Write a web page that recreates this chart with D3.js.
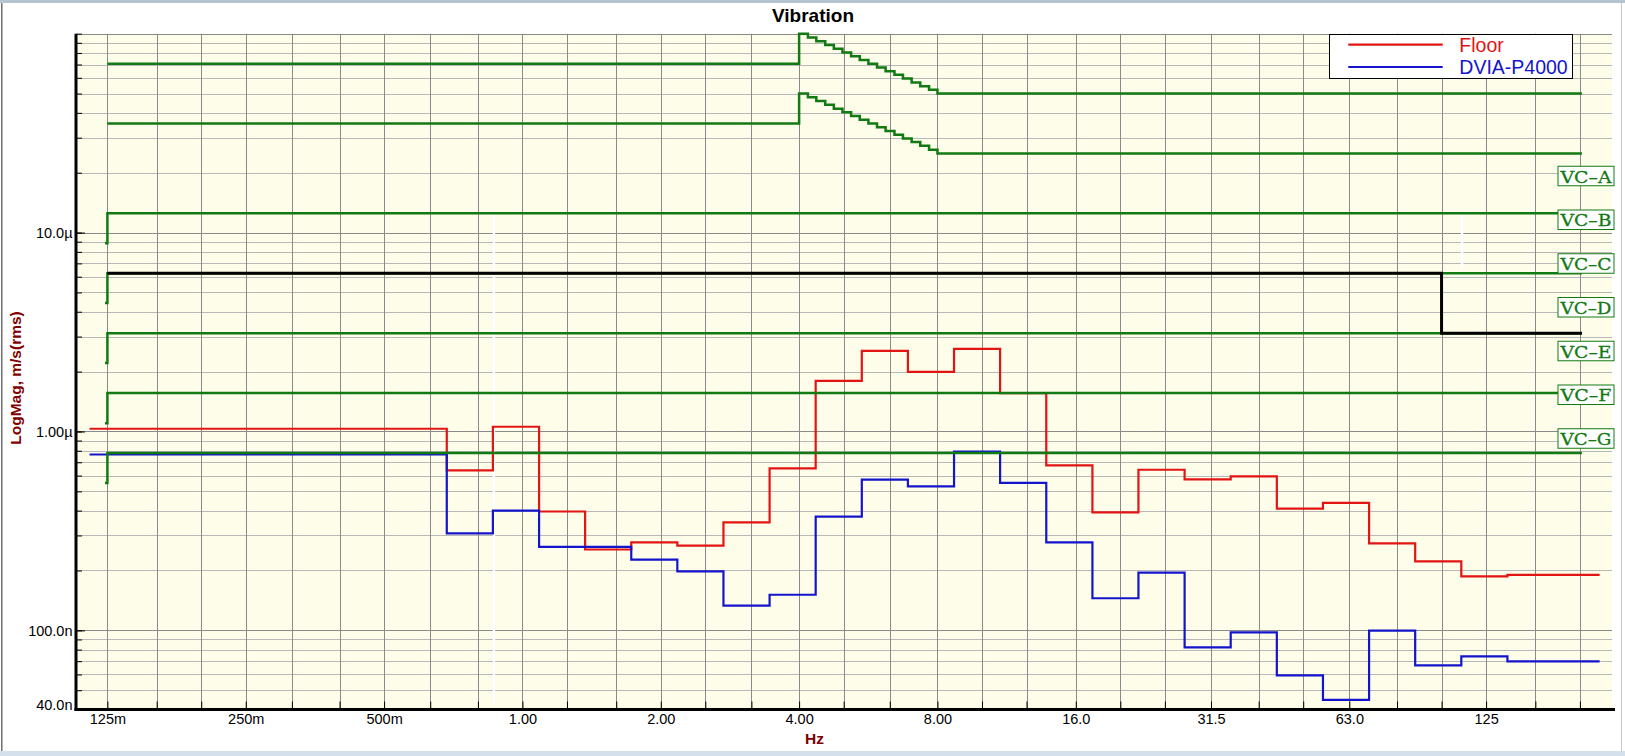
<!DOCTYPE html>
<html><head><meta charset="utf-8">
<script src="https://cdn.jsdelivr.net/npm/d3@7"></script>
<style>html,body{margin:0;padding:0;background:#fff;overflow:hidden}</style>
</head><body><svg id="c" width="1625" height="756"></svg>
<script>
// ---------- DATA ----------
// third-octave band edges (Hz) of the measured spectra
const bandEdges = [0.1143, 0.6845, 0.8624, 1.087, 1.369, 1.725, 2.173, 2.738, 3.450, 4.346, 5.476, 6.899, 8.693, 10.95, 13.80, 17.39, 21.90, 27.60, 34.77, 43.81, 55.20, 69.55, 87.62, 110.4, 139.1, 175.2, 220.8];
// band values, µm/s rms
const floorValues = [1.032, 0.637, 1.056, 0.396, 0.255, 0.277, 0.267, 0.349, 0.652, 1.798, 2.544, 1.995, 2.604, 1.56, 0.675, 0.392, 0.642, 0.574, 0.594, 0.409, 0.438, 0.274, 0.222, 0.187, 0.190, 0.190];
const dviaValues  = [0.766, 0.307, 0.400, 0.263, 0.263, 0.227, 0.198, 0.133, 0.151, 0.373, 0.572, 0.529, 0.791, 0.552, 0.277, 0.145, 0.195, 0.0822, 0.0977, 0.0594, 0.0447, 0.0997, 0.0667, 0.074, 0.0699, 0.0699];
const seriesNames = ["Floor", "DVIA-P4000"];

// vibration criteria, µm/s
const vcNames = ["VC\u2013A", "VC\u2013B", "VC\u2013C", "VC\u2013D", "VC\u2013E", "VC\u2013F", "VC\u2013G"];
const vcLevels = [50, 25, 12.5, 6.25, 3.12, 1.56, 0.78];
const vcStartLevels = [70.7, 35.4, 8.84, 4.42, 2.21, 1.10, 0.55];
const vcStartFreq = 0.1235;
const vcFreq = 0.125;
const vcEndFreq = 202;
// 4–8 Hz staircase of VC-A and VC-B
const slopeFreqs = [4.00, 4.18, 4.36, 4.56, 4.76, 4.97, 5.19, 5.42, 5.66, 5.91, 6.17, 6.45, 6.73, 7.03, 7.34, 7.67, 8.00];
const vcASlope = [100, 95.7, 91.7, 87.8, 84.1, 80.5, 77.1, 73.8, 70.7, 67.7, 64.8, 62.1, 59.5, 56.9, 54.5, 52.2, 50];
const vcBSlope = [50, 47.9, 45.9, 43.9, 42.0, 40.3, 38.6, 36.9, 35.4, 33.9, 32.4, 31.0, 29.7, 28.5, 27.3, 26.1, 25];
// specification line (black)
const specFreqs = [0.125, 100, 202];
const specValues = [6.25, 3.12, 3.12];

// axes
const gridFreqs = [0.125, 0.16, 0.2, 0.25, 0.315, 0.4, 0.5, 0.63, 0.8, 1, 1.25, 1.6, 2, 2.5, 3.15, 4, 5, 6.3, 8, 10, 12.5, 16, 20, 25, 31.5, 40, 50, 63, 80, 100, 125, 160, 200];
const xTickFreqs = [0.125, 0.25, 0.5, 1, 2, 4, 8, 16, 31.5, 63, 125];
const xTickLabels = ["125m", "250m", "500m", "1.00", "2.00", "4.00", "8.00", "16.0", "31.5", "63.0", "125"];
const yTickValues = [0.04, 0.1, 1, 10];
const yTickLabels = ["40.0n", "100.0n", "1.00\u00b5", "10.0\u00b5"];
// white cursor marks
const markerFreqs = [0.867, 110.8];
const markerTop = [12.3, 12.3];
const markerBottom = [0.0433, 6.5];

// ---------- LAYOUT ----------
const W = 1625, H = 756;
const L = 76, R = 1612, T = 33.7, B = 709.5;
const GREEN = "#127a12", RED = "#e21414", BLUE = "#1414cc", MAROON = "#800000";
const svg = d3.select("#c");
const x = d3.scaleLog().domain([0.1068, 234.9]).range([L, R]);
const y = d3.scaleLog().domain([0.04, 100]).range([B, T]);

// window frame
svg.append("rect").attr("x", 0).attr("y", 0).attr("width", W).attr("height", H).attr("fill", "#fff");
svg.append("rect").attr("x", 0).attr("y", 0).attr("width", W).attr("height", 3).attr("fill", "#b7c3d0");
svg.append("rect").attr("x", 0).attr("y", 751).attr("width", W).attr("height", 5).attr("fill", "#d4e0ec");
svg.append("rect").attr("x", 1).attr("y", 3).attr("width", 1.5).attr("height", 748).attr("fill", "#6f6f6f");
svg.append("rect").attr("x", 1621).attr("y", 3).attr("width", 1).attr("height", 748).attr("fill", "#c8c8c8");

// plot background
svg.append("rect").attr("x", L).attr("y", T).attr("width", R - L).attr("height", B - T).attr("fill", "#fdfdea");

// horizontal grid
const hVals = [];
[0.01, 0.1, 1, 10].forEach(d => { for (let m = 1; m <= 9; m++) { const v = +(d * m).toPrecision(3); if (v >= 0.04 && v <= 100) hVals.push(v); } });
hVals.push(100);
const isDecade = v => Math.abs(Math.log10(v) - Math.round(Math.log10(v))) < 1e-6;
svg.append("g").selectAll("line").data(hVals).join("line")
  .attr("x1", L).attr("x2", R).attr("y1", d => Math.round(y(d)) + 0.5).attr("y2", d => Math.round(y(d)) + 0.5)
  .attr("stroke", d => isDecade(d) ? "#8a8a8a" : "#b8b8b8").attr("stroke-width", 1);
// vertical grid
svg.append("g").selectAll("line").data(gridFreqs).join("line")
  .attr("x1", d => Math.round(x(d)) + 0.5).attr("x2", d => Math.round(x(d)) + 0.5).attr("y1", T).attr("y2", B)
  .attr("stroke", "#8a8a8a").attr("stroke-width", 1);

// white marks
svg.append("g").selectAll("line").data(markerFreqs).join("line")
  .attr("x1", d => x(d)).attr("x2", d => x(d))
  .attr("y1", (d, i) => y(markerTop[i])).attr("y2", (d, i) => y(markerBottom[i]))
  .attr("stroke", "#ffffff").attr("stroke-width", 2.5);

// measured spectra
const stepLine = d3.line().x(d => x(d[0])).y(d => y(d[1])).curve(d3.curveStepAfter);
function bandPoints(vals) {
  const pts = vals.map((v, i) => [bandEdges[i], v]);
  pts.push([bandEdges[bandEdges.length - 1], vals[vals.length - 1]]);
  return pts;
}
svg.append("path").attr("d", stepLine(bandPoints(floorValues))).attr("fill", "none").attr("stroke", RED).attr("stroke-width", 2.2);
svg.append("path").attr("d", stepLine(bandPoints(dviaValues))).attr("fill", "none").attr("stroke", BLUE).attr("stroke-width", 2.2);

// criteria lines
const vcSeries = vcLevels.map((lev, i) => {
  if (i === 0 || i === 1) {
    const slope = i === 0 ? vcASlope : vcBSlope;
    return [[vcFreq, vcStartLevels[i]]].concat(slopeFreqs.map((f, j) => [f, slope[j]])).concat([[vcEndFreq, lev]]);
  }
  return [[vcStartFreq, vcStartLevels[i]], [vcFreq, lev], [vcEndFreq, lev]];
});
svg.append("g").selectAll("path").data(vcSeries).join("path")
  .attr("d", d => stepLine(d)).attr("fill", "none").attr("stroke", GREEN).attr("stroke-width", 2.5);
// spec line
svg.append("path").attr("d", stepLine(specFreqs.map((f, i) => [f, specValues[i]])))
  .attr("fill", "none").attr("stroke", "#000").attr("stroke-width", 3);

// criteria labels
const lg = svg.append("g").selectAll("g").data(vcNames).join("g")
  .attr("transform", (d, i) => `translate(1558,${176 + i * 43.75})`);
lg.append("rect").attr("x", 0).attr("y", -9.75).attr("width", 56).attr("height", 19.5)
  .attr("fill", "#ffffff").attr("stroke", GREEN).attr("stroke-width", 1);
lg.append("text").attr("x", 28).attr("y", 6.6).attr("text-anchor", "middle")
  .attr("font-family", "DejaVu Serif, serif").attr("font-size", 17.5).attr("fill", GREEN)
  .attr("stroke", GREEN).attr("stroke-width", 0.3)
  .attr("textLength", 51).attr("lengthAdjust", "spacingAndGlyphs").text(d => d);

// axes
const xAxis = d3.axisBottom(x).tickValues(gridFreqs).tickSizeInner(-8).tickSizeOuter(0).tickPadding(4)
  .tickFormat(f => { const k = xTickFreqs.indexOf(f); return k >= 0 ? xTickLabels[k] : ""; });
const gx = svg.append("g").attr("transform", `translate(0,${B})`).call(xAxis);
gx.select(".domain").attr("stroke", "#000").attr("stroke-width", 3).attr("d", `M${L - 1.5},0H${R + 3}`);
gx.selectAll(".tick line").attr("stroke", "#000").attr("stroke-width", 1);
gx.selectAll(".tick text").attr("font-family", "Liberation Sans, Arial, sans-serif").attr("font-size", 14.5).attr("fill", "#000");

const yMinor = d3.axisLeft(y).tickValues(hVals).tickSizeInner(-6).tickSizeOuter(0).tickFormat("");
const gy1 = svg.append("g").attr("transform", `translate(${L},0)`).call(yMinor);
gy1.selectAll(".tick line").attr("stroke", "#000");
gy1.select(".domain").remove();
const yMajor = d3.axisLeft(y).tickValues(yTickValues).tickSizeInner(-9).tickSizeOuter(0).tickPadding(3.5)
  .tickFormat(v => yTickLabels[yTickValues.indexOf(v)]);
const gy = svg.append("g").attr("transform", `translate(${L},0)`).call(yMajor);
gy.select(".domain").attr("stroke", "#000").attr("stroke-width", 3).attr("d", `M0,${T}V${B + 1.5}`);
gy.selectAll(".tick line").attr("stroke", "#000");
gy.selectAll(".tick text").attr("font-family", "Liberation Sans, Arial, sans-serif").attr("font-size", 14.5).attr("fill", "#000")
  .attr("dy", v => v === 0.04 ? "0.0em" : "0.34em");

// titles
svg.append("text").attr("x", 813).attr("y", 21.7).attr("text-anchor", "middle")
  .attr("font-family", "Liberation Sans, Arial, sans-serif").attr("font-weight", "bold").attr("font-size", 19).attr("fill", "#000").text("Vibration");
svg.append("text").attr("x", 814.5).attr("y", 744).attr("text-anchor", "middle")
  .attr("font-family", "Liberation Sans, Arial, sans-serif").attr("font-weight", "bold").attr("font-size", 15.5).attr("fill", MAROON).text("Hz");
svg.append("text").attr("transform", "translate(20.7,378) rotate(-90)").attr("text-anchor", "middle")
  .attr("font-family", "Liberation Sans, Arial, sans-serif").attr("font-weight", "bold").attr("font-size", 15.5).attr("fill", MAROON).text("LogMag, m/s(rms)");

// legend
const leg = svg.append("g");
leg.append("rect").attr("x", 1329.5).attr("y", 34.5).attr("width", 243).attr("height", 44).attr("fill", "#fff").attr("stroke", "#000").attr("stroke-width", 1);
const legColors = [RED, BLUE];
seriesNames.forEach((n, i) => {
  const yy = 44.7 + i * 22.3;
  leg.append("line").attr("x1", 1348.3).attr("x2", 1442.7).attr("y1", yy).attr("y2", yy).attr("stroke", legColors[i]).attr("stroke-width", 2.2);
  leg.append("text").attr("x", 1459.3).attr("y", yy + 7).attr("font-family", "Liberation Sans, Arial, sans-serif")
    .attr("font-size", 19.5).attr("fill", legColors[i]).text(n);
});
</script></body></html>
